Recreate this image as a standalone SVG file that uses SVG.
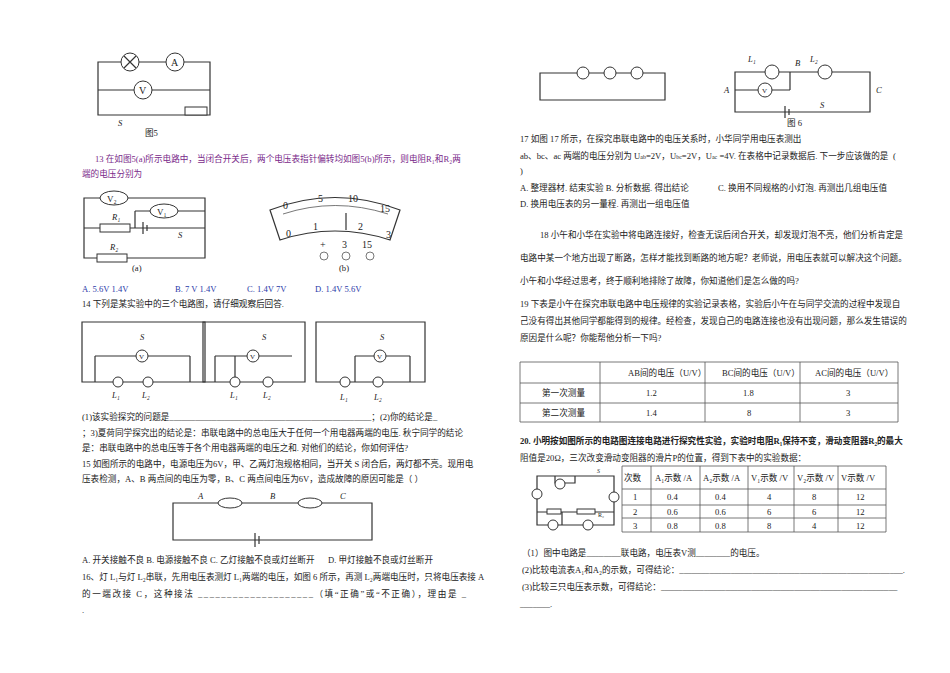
<svg xmlns="http://www.w3.org/2000/svg" width="950" height="673" viewBox="0 0 950 673">
<style>
text{font-family:"Liberation Serif","Noto Sans CJK SC",serif;font-size:8.6px;fill:#222}
.p text,text.p{fill:#7a2a8a}
.b{fill:#2a3aa8}
.w{fill:none;stroke:#333;stroke-width:1.2}
.t{fill:none;stroke:#555;stroke-width:0.8}
.m{fill:#fff;stroke:#333;stroke-width:1}
.i{font-family:"Liberation Serif",serif;font-style:italic}
</style>
<rect width="950" height="673" fill="#fff"/>
<g id="fig5">
<path class="w" d="M98 62H210V115H98Z M98 90H210"/>
<circle class="m" cx="130" cy="62" r="9"/><path class="w" d="M124 56l12 12M136 56l-12 12"/>
<circle class="m" cx="175" cy="62" r="9"/><text x="171" y="66" style="font-size:10px">A</text>
<circle class="m" cx="143" cy="90" r="9"/><text x="139" y="94" style="font-size:10px">V</text>
<rect class="m" x="185" y="107" width="22" height="8"/>
<text x="118" y="126" class="i">S</text>
<text x="145" y="136">图5</text>
</g>
<g id="q13" class="p">
<text x="95" y="162">13 在如图5(a)所示电路中，当闭合开关后，两个电压表指针偏转均如图5(b)所示，则电阻R₁和R₂两</text>
<text x="82" y="177">端的电压分别为</text>
</g>
<g id="fig5a">
<path class="w" d="M84 198H205V258H84Z M84 228H205 M135 211H205 M135 211V228"/>
<ellipse class="m" cx="114" cy="198" rx="14" ry="7"/><text x="107" y="202" style="font-size:9px">V₂</text>
<ellipse class="m" cx="164" cy="211" rx="14" ry="7"/><text x="157" y="215" style="font-size:9px">V₁</text>
<rect class="m" x="100" y="224" width="30" height="8"/><text x="112" y="220" class="i">R₁</text>
<rect class="m" x="97" y="254" width="30" height="8"/><text x="110" y="250" class="i">R₂</text>
<path class="w" d="M143 222v12M147 225v6"/>
<text x="178" y="238" class="i">S</text>
<text x="132" y="271">(a)</text>
</g>
<g id="fig5b">
<path class="w" d="M270 210Q335 185 400 210L390 240Q335 222 280 240Z"/>
<path class="t" d="M283 214Q335 197 388 214"/>
<text x="283" y="209" style="font-size:10px">0</text><text x="318" y="202" style="font-size:10px">5</text><text x="348" y="202" style="font-size:10px">10</text><text x="380" y="212" style="font-size:10px">15</text>
<text x="286" y="237" style="font-size:10px">0</text><text x="313" y="230" style="font-size:10px">1</text><text x="358" y="230" style="font-size:10px">2</text><text x="386" y="238" style="font-size:10px">3</text>
<path class="w" d="M346 230V213"/>
<text x="320" y="248" style="font-size:10px">+</text><text x="342" y="248" style="font-size:10px">3</text><text x="362" y="248" style="font-size:10px">15</text>
<circle class="t" cx="324" cy="256" r="4"/><circle class="t" cx="346" cy="256" r="4"/><circle class="t" cx="370" cy="256" r="4"/>
<text x="339" y="271">(b)</text>
</g>
<g id="q13opt">
<text class="b" x="82" y="292">A. 5.6V  1.4V</text>
<text class="b" x="175" y="292">B. 7 V  1.4V</text>
<text class="b" x="247" y="292">C. 1.4V  7V</text>
<text class="b" x="315" y="292">D. 1.4V  5.6V</text>
<text x="82" y="307">14 下列是某实验中的三个电路图，请仔细观察后回答.</text>
</g>
<g id="q14circuits">
<path class="w" d="M82 322H205V382H82Z M95 356H190 M95 356V382 M190 356V382"/>
<circle class="m" cx="142" cy="356" r="6"/><text x="139" y="359" style="font-size:7px">V</text>
<circle class="m" cx="118" cy="382" r="5"/><circle class="m" cx="148" cy="382" r="5"/>
<text x="140" y="340" class="i">S</text><text x="112" y="398" class="i">L₁</text><text x="142" y="398" class="i">L₂</text>
<path class="w" d="M203 322H305V382H203Z M215 356H292 M215 356V382 M235 356V382"/>
<circle class="m" cx="253" cy="356" r="6"/><text x="250" y="359" style="font-size:7px">V</text>
<circle class="m" cx="235" cy="382" r="5"/><circle class="m" cx="268" cy="382" r="5"/>
<text x="262" y="340" class="i">S</text><text x="230" y="398" class="i">L₁</text><text x="263" y="398" class="i">L₂</text>
<path class="w" d="M316 322H425V382H316Z M355 356H410 M355 356V382 M410 356V382"/>
<circle class="m" cx="380" cy="356" r="6"/><text x="377" y="359" style="font-size:7px">V</text>
<circle class="m" cx="345" cy="382" r="5"/><circle class="m" cx="378" cy="382" r="5"/>
<text x="380" y="340" class="i">S</text><text x="340" y="400" class="i">L₁</text><text x="374" y="400" class="i">L₂</text>
</g>
<g id="q14text">
<text x="82" y="420">(1)该实验探究的问题是_______________________________________________；(2)你的结论是_</text>
<text x="82" y="436">；3)夏荷同学探究出的结论是：串联电路中的总电压大于任何一个用电器两端的电压. 秋宁同学的结论</text>
<text x="82" y="451">是：串联电路中的总电压等于各个用电器两端的电压之和. 对他们的结论，你如何评估?</text>
<text x="82" y="467">15  如图所示的电路中，电源电压为6V，甲、乙两灯泡规格相同，当开关 S 闭合后，两灯都不亮。现用电</text>
<text x="82" y="482">压表检测，A、B 两点间的电压为零，B、C 两点间电压为6V，造成故障的原因可能是（   ）</text>
</g>
<g id="q15circuit">
<path class="w" d="M173 503H372V540H173Z"/>
<ellipse class="m" cx="230" cy="503" rx="12" ry="5"/><ellipse class="m" cx="310" cy="503" rx="12" ry="5"/>
<text x="198" y="499" class="i">A</text><text x="270" y="499" class="i">B</text><text x="340" y="499" class="i">C</text>
<path class="w" d="M255 533v14M259 536v8"/>
</g>
<g id="q16">
<text x="82" y="563">A. 开关接触不良 B. 电源接触不良 C. 乙灯接触不良或灯丝断开</text>
<text x="328" y="563">D. 甲灯接触不良或灯丝断开</text>
<text x="82" y="580">16、灯 L₁与灯 L₂串联，先用电压表测灯 L₁两端的电压，如图 6 所示，再测 L₂两端电压时，只将电压表接 A</text>
<text x="82" y="597" textLength="384">的一端改接 C，这种接法 ____________________（填“正确”或“不正确），理由是 _</text>
<text x="82" y="613">.</text>
</g>
<g id="topright">
<path class="w" d="M540 73H665V100H540Z"/>
<circle class="m" cx="583" cy="73" r="6"/><circle class="m" cx="610" cy="73" r="6"/><circle class="m" cx="637" cy="73" r="6"/>
</g>
<g id="fig6">
<path class="w" d="M735 72H870V112H735Z M735 90H790 M790 72V90"/>
<circle class="m" cx="772" cy="72" r="7"/><circle class="m" cx="825" cy="72" r="7"/>
<circle class="m" cx="765" cy="90" r="7"/><text x="762" y="93" style="font-size:7px">V</text>
<text x="748" y="62" class="i">L₁</text><text x="810" y="62" class="i">L₂</text><text x="795" y="66" class="i">B</text>
<text x="724" y="93" class="i">A</text><text x="876" y="93" class="i">C</text><text x="820" y="108" class="i">S</text>
<path class="w" d="M785 106v12M789 109v6"/>
<text x="787" y="126">图 6</text>
</g>
<g id="q17">
<text x="520" y="142">17  如图 17 所示，在探究串联电路中的电压关系时，小华同学用电压表测出</text>
<text x="520" y="159">ab、bc、ac 两端的电压分别为 U<tspan style="font-size:6px">ab</tspan>=2V，U<tspan style="font-size:6px">bc</tspan>=2V，U<tspan style="font-size:6px">ac</tspan> =4V. 在表格中记录数据后. 下一步应该做的是</text>
<text x="893" y="159">(</text>
<text x="520" y="174">)</text>
<text x="520" y="191">A. 整理器材. 结束实验   B. 分析数据. 得出结论</text>
<text x="718" y="191">C. 换用不同规格的小灯泡. 再测出几组电压值</text>
<text x="520" y="207">D.  换用电压表的另一量程. 再测出一组电压值</text>
</g>
<g id="q18">
<text x="540" y="238">18 小午和小华在实验中将电路连接好，检查无误后闭合开关，却发现灯泡不亮，他们分析肯定是</text>
<text x="520" y="261">电路中某一个地方出现了断路，怎样才能找到断路的地方呢？老师说，用电压表就可以解决这个问题。</text>
<text x="520" y="284">小午和小华经过思考，终于顺利地排除了故障，你知道他们是怎么做的吗?</text>
<text x="520" y="307">19 下表是小午在探究串联电路中电压规律的实验记录表格，实验后小午在与同学交流的过程中发现自</text>
<text x="520" y="324">己没有得出其他同学都能得到的规律。经检查，发现自己的电路连接也没有出现问题，那么发生错误的</text>
<text x="520" y="341">原因是什么呢？你能帮他分析一下吗?</text>
</g>
<g id="table19">
<path class="t" d="M520 362H898V422H520Z M520 383H898 M520 403H898 M600 362V422 M705 362V422 M800 362V422"/>
<g style="font-size:8px">
<text x="628" y="376" fill="#666">AB间的电压（U/V）</text><text x="722" y="376" fill="#666">BC间的电压（U/V）</text><text x="815" y="376" fill="#666">AC间的电压（U/V）</text>
<text x="542" y="396" fill="#666">第一次测量</text><text x="646" y="396">1.2</text><text x="743" y="396">1.8</text><text x="846" y="396">3</text>
<text x="542" y="416" fill="#666">第二次测量</text><text x="646" y="416">1.4</text><text x="747" y="416">8</text><text x="846" y="416">3</text>
</g>
</g>
<g id="q20">
<text x="520" y="444" style="font-weight:bold">20. 小明按如图所示的电路图连接电路进行探究性实验，实验时电阻R₁保持不变，滑动变阻器R₂的最大</text>
<text x="520" y="461">阻值是20Ω，三次改变滑动变阻器的滑片P的位置，得到下表中的实验数据：</text>
</g>
<g id="q20circuit">
<path class="w" d="M537 476H614V525H537Z M555 476V483H575V476 M537 512H614 M562 512V525"/>
<circle class="m" cx="560" cy="484" r="5"/><circle class="m" cx="537" cy="494" r="5"/><circle class="m" cx="614" cy="497" r="5"/>
<circle class="m" cx="553" cy="525" r="5"/><circle class="m" cx="588" cy="525" r="5"/>
<rect class="m" x="547" y="509" width="14" height="5"/><rect class="m" x="577" y="509" width="18" height="5"/>
<text x="597" y="473" class="i" style="font-size:6px">S</text><text x="598" y="517" style="font-size:6px">R₂</text>
</g>
<g id="table20">
<path class="t" d="M622 466H886V532H622Z M622 489H886 M622 505H886 M622 518H886 M651 466V532 M700 466V532 M748 466V532 M794 466V532 M838 466V532"/>
<g style="font-size:9px">
<text x="624" y="481">次数</text><text x="655" y="481">A₁示数 /A</text><text x="703" y="481">A₂示数 /A</text><text x="751" y="481">V₁示数 /V</text><text x="797" y="481">V₂示数 /V</text><text x="841" y="481">V示数 /V</text>
<text x="633" y="500">1</text><text x="667" y="500">0.4</text><text x="715" y="500">0.4</text><text x="767" y="500">4</text><text x="812" y="500">8</text><text x="856" y="500">12</text>
<text x="633" y="515">2</text><text x="667" y="515">0.6</text><text x="715" y="515">0.6</text><text x="767" y="515">6</text><text x="812" y="515">6</text><text x="856" y="515">12</text>
<text x="633" y="529">3</text><text x="667" y="529">0.8</text><text x="715" y="529">0.8</text><text x="767" y="529">8</text><text x="812" y="529">4</text><text x="856" y="529">12</text>
</g>
</g>
<g id="q20sub">
<text x="522" y="556">（1）图中电路是________联电路，电压表V测________的电压。</text>
<text x="522" y="573">(2)比较电流表A₁和A₂的示数，可得结论：____________________________________________________.</text>
<text x="522" y="590">(3)比较三只电压表示数，可得结论：_______________________________________________________</text>
<text x="520" y="607">_______.</text>
</g>
</svg>
